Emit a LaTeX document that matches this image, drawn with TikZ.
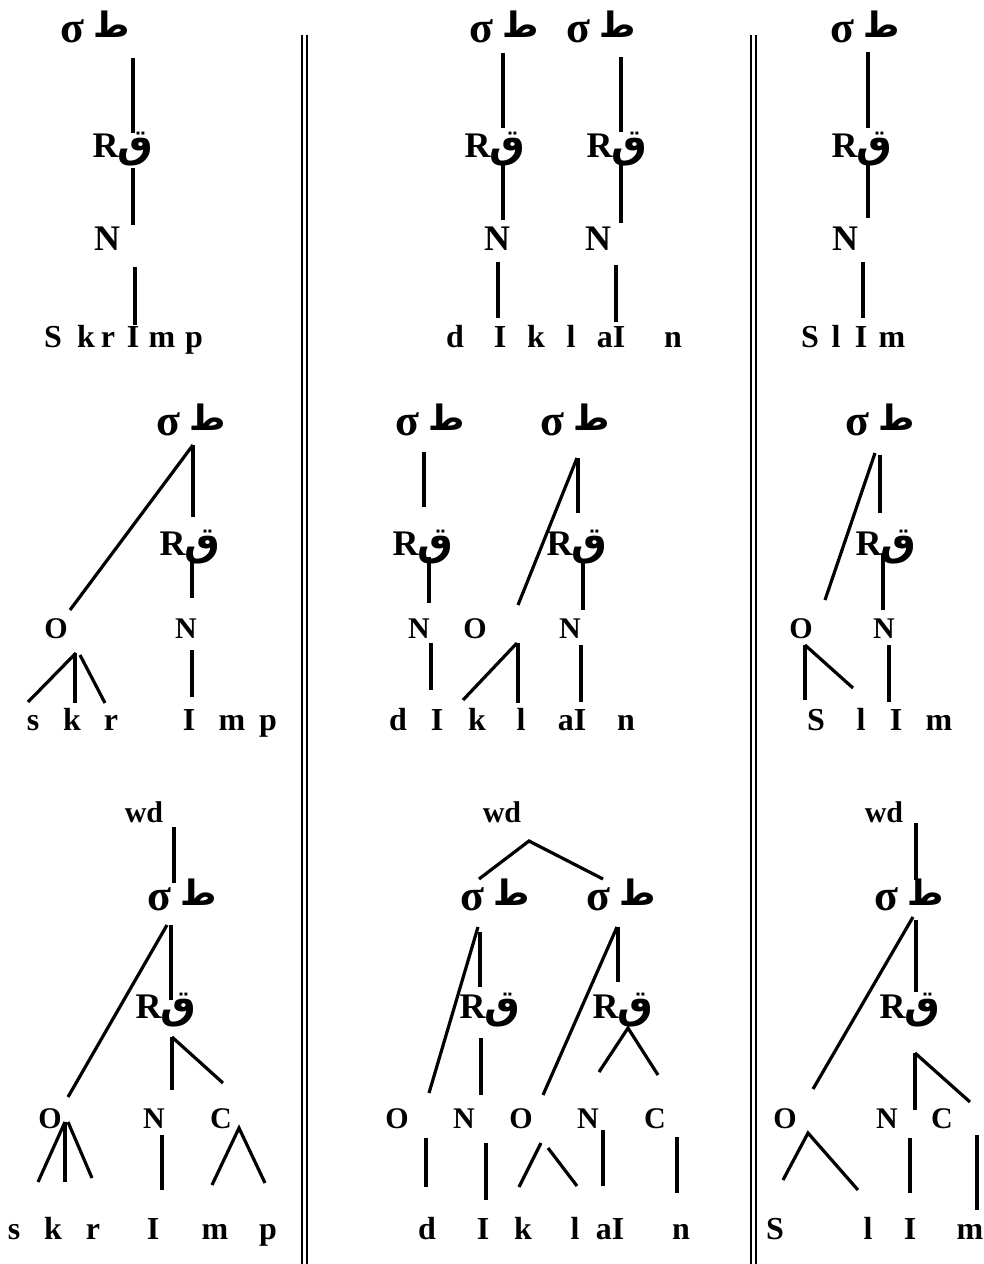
\documentclass[tikz,border=0pt]{standalone}
\usepackage{fontspec}
\setmainfont{Liberation Serif}
\newfontfamily\arfont[Script=Arabic]{DejaVu Sans}
\TeXXeTstate=1
\newcommand{\arTa}{{\arfont\fontsize{35}{35}\selectfont\beginR ط\endR}}
\newcommand{\arQaf}{{\arfont\fontsize{40}{40}\selectfont\beginR ق\endR}}
\newcommand{\SigTa}{{\fontsize{44}{44}\selectfont σ}\hspace{0.25em}\raisebox{5pt}{\arTa}}
\newcommand{\RQaf}{R\hspace{-1pt}\arQaf}
\tikzset{
  ln/.style={line width=3.2pt},
  dbl/.style={line width=2pt},
  big/.style={font=\bfseries\fontsize{36}{36}\selectfont, inner sep=0pt, anchor=base},
  mid/.style={font=\bfseries\fontsize{30}{30}\selectfont, inner sep=0pt, anchor=base},
  seg/.style={font=\bfseries\fontsize{32}{32}\selectfont, inner sep=0pt, anchor=base},
}
\newcommand{\segm}[3]{\coordinate (#1a) at (#2); \coordinate (#1b) at (#3); \draw[ln] (#1a) -- (#1b);}
\newcommand{\hatseg}[4]{\coordinate (#1l) at (#2); \coordinate (#1t) at (#3); \coordinate (#1r) at (#4); \draw[ln] (#1l) -- (#1t) -- (#1r);}
\begin{document}
\begin{tikzpicture}[x=1pt,y=-1pt]
\useasboundingbox (0,0) rectangle (984,1264);
\fill[white] (0,0) rectangle (984,1264);
% separators
\coordinate (sA1) at (302,35); \coordinate (sA2) at (302,1264);
\coordinate (sB1) at (307,35); \coordinate (sB2) at (307,1264);
\coordinate (sC1) at (750.5,35); \coordinate (sC2) at (750.5,1264);
\coordinate (sD1) at (755.5,35); \coordinate (sD2) at (755.5,1264);
\draw[dbl] (sA1) -- (sA2); \draw[dbl] (sB1) -- (sB2);
\draw[dbl] (sC1) -- (sC2); \draw[dbl] (sD1) -- (sD2);

% ===== Row 1 =====
% col 1
\node[big] (r1s) at (95,42) {\SigTa};
\node[big] (r1r) at (123,157) {\RQaf};
\node[big] (r1n) at (107,250) {N};
\node[seg] (r1t1) at (53,347) {S};
\node[seg] (r1t2) at (86,347) {k};
\node[seg] (r1t3) at (108,347) {r};
\node[seg] (r1t4) at (133,347) {I};
\node[seg] (r1t5) at (162,347) {m};
\node[seg] (r1t6) at (194,347) {p};
\segm{q1}{133,58}{133,133}
\segm{q2}{133,168}{133,225}
\segm{q3}{135,267}{135,325}
% col 2
\node[big] (r2s1) at (504,42) {\SigTa};
\node[big] (r2s2) at (601,42) {\SigTa};
\node[big] (r2r1) at (495,157) {\RQaf};
\node[big] (r2r2) at (617,157) {\RQaf};
\node[big] (r2n1) at (497,250) {N};
\node[big] (r2n2) at (598,250) {N};
\node[seg] (r2t1) at (455,347) {d};
\node[seg] (r2t2) at (500,347) {I};
\node[seg] (r2t3) at (536,347) {k};
\node[seg] (r2t4) at (571,347) {l};
\node[seg] (r2t5) at (611,347) {aI};
\node[seg] (r2t6) at (673,347) {n};
\segm{q4}{503,53}{503,128}
\segm{q5}{503,163}{503,220}
\segm{q6}{498,262}{498,318}
\segm{q7}{621,57}{621,132}
\segm{q8}{621,165}{621,223}
\segm{q9}{616,265}{616,322}
% col 3
\node[big] (r3s) at (865,42) {\SigTa};
\node[big] (r3r) at (862,157) {\RQaf};
\node[big] (r3n) at (845,250) {N};
\node[seg] (r3t1) at (810,347) {S};
\node[seg] (r3t2) at (836,347) {l};
\node[seg] (r3t3) at (861,347) {I};
\node[seg] (r3t4) at (892,347) {m};
\segm{q10}{868,52}{868,128}
\segm{q11}{868,163}{868,218}
\segm{q12}{863,262}{863,318}

% ===== Row 2 =====
% col 1
\node[big] (m1s) at (191,435) {\SigTa};
\node[big] (m1r) at (190,555) {\RQaf};
\node[mid] (m1o) at (56,638) {O};
\node[mid] (m1n) at (186,638) {N};
\node[seg] (m1t1) at (33,730) {s};
\node[seg] (m1t2) at (72,730) {k};
\node[seg] (m1t3) at (111,730) {r};
\node[seg] (m1t4) at (189,730) {I};
\node[seg] (m1t5) at (232,730) {m};
\node[seg] (m1t6) at (268,730) {p};
\segm{w1}{193,445}{70,610}
\segm{w2}{193,445}{193,517}
\segm{w3}{192,560}{192,598}
\segm{w4}{76,653}{28,702}
\segm{w5}{75,653}{75,703}
\segm{w6}{80,655}{105,703}
\segm{w7}{192,650}{192,697}
% col 2
\node[big] (m2s1) at (430,435) {\SigTa};
\node[big] (m2s2) at (575,435) {\SigTa};
\node[big] (m2r1) at (423,555) {\RQaf};
\node[big] (m2r2) at (577,555) {\RQaf};
\node[mid] (m2n1) at (419,638) {N};
\node[mid] (m2o1) at (475,638) {O};
\node[mid] (m2n2) at (570,638) {N};
\node[seg] (m2t1) at (398,730) {d};
\node[seg] (m2t2) at (437,730) {I};
\node[seg] (m2t3) at (477,730) {k};
\node[seg] (m2t4) at (521,730) {l};
\node[seg] (m2t5) at (572,730) {aI};
\node[seg] (m2t6) at (626,730) {n};
\segm{w8}{424,452}{424,507}
\segm{w9}{429,557}{429,603}
\segm{w10}{431,643}{431,690}
\segm{w11}{577,458}{518,605}
\segm{w12}{578,458}{578,513}
\segm{w13}{583,560}{583,610}
\segm{w14}{581,645}{581,702}
\segm{w15}{517,643}{463,700}
\segm{w16}{518,643}{518,703}
% col 3
\node[big] (m3s) at (880,435) {\SigTa};
\node[big] (m3r) at (886,555) {\RQaf};
\node[mid] (m3o) at (801,638) {O};
\node[mid] (m3n) at (884,638) {N};
\node[seg] (m3t1) at (816,730) {S};
\node[seg] (m3t2) at (861,730) {l};
\node[seg] (m3t3) at (896,730) {I};
\node[seg] (m3t4) at (939,730) {m};
\segm{w17}{875,453}{825,600}
\segm{w18}{880,455}{880,513}
\segm{w19}{883,553}{883,610}
\segm{w20}{805,645}{805,700}
\segm{w21}{805,645}{853,688}
\segm{w22}{889,645}{889,702}

% ===== Row 3 =====
% col 1
\node[mid] (b1w) at (144,822) {wd};
\node[big] (b1s) at (182,910) {\SigTa};
\node[big] (b1r) at (166,1018) {\RQaf};
\node[mid] (b1o) at (50,1128) {O};
\node[mid] (b1n) at (154,1128) {N};
\node[mid] (b1c) at (221,1128) {C};
\node[seg] (b1t1) at (14,1239) {s};
\node[seg] (b1t2) at (53,1239) {k};
\node[seg] (b1t3) at (93,1239) {r};
\node[seg] (b1t4) at (153,1239) {I};
\node[seg] (b1t5) at (215,1239) {m};
\node[seg] (b1t6) at (268,1239) {p};
\segm{v1}{174,827}{174,883}
\segm{v2}{167,925}{68,1097}
\segm{v3}{171,925}{171,1000}
\segm{v4}{172,1037}{172,1090}
\segm{v5}{172,1037}{223,1083}
\segm{v6}{65,1122}{38,1182}
\segm{v7}{65,1122}{65,1182}
\segm{v8}{68,1122}{92,1178}
\segm{v9}{162,1135}{162,1190}
\hatseg{v10}{212,1185}{239,1128}{265,1183}
% col 2
\node[mid] (b2w) at (502,822) {wd};
\node[big] (b2s1) at (495,910) {\SigTa};
\node[big] (b2s2) at (621,910) {\SigTa};
\node[big] (b2r1) at (490,1018) {\RQaf};
\node[big] (b2r2) at (623,1018) {\RQaf};
\node[mid] (b2o1) at (397,1128) {O};
\node[mid] (b2n1) at (464,1128) {N};
\node[mid] (b2o2) at (521,1128) {O};
\node[mid] (b2n2) at (588,1128) {N};
\node[mid] (b2c) at (655,1128) {C};
\node[seg] (b2t1) at (427,1239) {d};
\node[seg] (b2t2) at (483,1239) {I};
\node[seg] (b2t3) at (523,1239) {k};
\node[seg] (b2t4) at (575,1239) {l};
\node[seg] (b2t5) at (610,1239) {aI};
\node[seg] (b2t6) at (681,1239) {n};
\hatseg{v11}{479,879}{529,841}{603,879}
\segm{v12}{478,927}{429,1093}
\segm{v13}{480,932}{480,987}
\segm{v14}{481,1038}{481,1095}
\segm{v15}{617,927}{543,1095}
\segm{v16}{618,927}{618,982}
\hatseg{v17}{599,1072}{628,1028}{658,1075}
\segm{v18}{426,1138}{426,1187}
\segm{v19}{486,1143}{486,1200}
\segm{v20}{541,1143}{519,1187}
\segm{v21}{548,1148}{577,1186}
\segm{v22}{603,1130}{603,1186}
\segm{v23}{677,1137}{677,1193}
% col 3
\node[mid] (b3w) at (884,822) {wd};
\node[big] (b3s) at (909,910) {\SigTa};
\node[big] (b3r) at (910,1018) {\RQaf};
\node[mid] (b3o) at (785,1128) {O};
\node[mid] (b3n) at (887,1128) {N};
\node[mid] (b3c) at (942,1128) {C};
\node[seg] (b3t1) at (775,1239) {S};
\node[seg] (b3t2) at (868,1239) {l};
\node[seg] (b3t3) at (910,1239) {I};
\node[seg] (b3t4) at (970,1239) {m};
\segm{v24}{916,823}{916,880}
\segm{v25}{913,917}{813,1089}
\segm{v26}{916,920}{916,992}
\segm{v27}{915,1053}{915,1110}
\segm{v28}{915,1053}{970,1102}
\hatseg{v29}{783,1180}{808,1133}{858,1190}
\segm{v30}{910,1138}{910,1193}
\segm{v31}{977,1135}{977,1210}
\end{tikzpicture}
\end{document}
